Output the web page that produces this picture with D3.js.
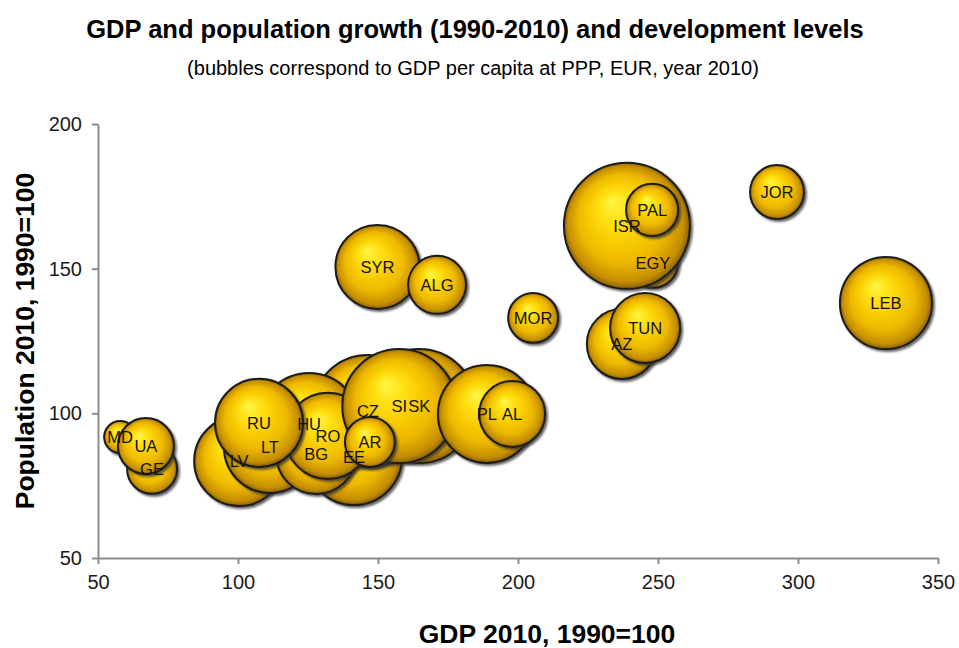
<!DOCTYPE html>
<meta charset="utf-8">
<style>
html, body { margin: 0; padding: 0; background: #fff; overflow: hidden; }
svg { font-family: Arial, "Liberation Sans", sans-serif; }
.axis path, .axis line { stroke: #8c8c8c; stroke-width: 2px; }
.axis text { font-size: 20px; fill: #1a1a1a; }
.lbl { font-size: 16.5px; fill: #111; }
</style>
<svg width="959" height="648"></svg>
<script src="https://d3js.org/d3.v7.min.js"></script>
<script>
// data, in drawing order (back to front)
var countries = ["EE", "LV", "LT", "CZ", "HU", "BG", "RO", "RU", "SK", "SI", "AR", "PL", "AL",
                 "MD", "GE", "UA", "SYR", "ALG", "MOR", "EGY", "ISR", "PAL", "AZ", "TUN", "JOR", "LEB"];
var gdpIndex = [141.4, 100.4, 111.4, 146.4, 125.4, 127.9, 132.1, 107.5, 164.7, 157.6, 147.1, 188.9, 197.9,
                57.9, 69.3, 67.1, 149.8, 171.1, 205.4, 248.2, 238.9, 247.9, 237.1, 245.4, 292.5, 331.4];
var popIndex = [84.9, 83.5, 88.4, 100.8, 96.3, 85.9, 92.2, 96.7, 102.5, 102.5, 90.1, 99.8, 99.8,
                91.8, 80.8, 88.7, 150.6, 144.4, 133.0, 152.0, 164.8, 170.3, 124.0, 129.5, 176.5, 138.1];
var gdpPerCapita = [12200, 10700, 11200, 16600, 13750, 8450, 9800, 10250, 17200, 17200, 3300, 12700, 5750,
                    1350, 3300, 4150, 9350, 4450, 3300, 3300, 21000, 3600, 6500, 6500, 3850, 11200];
var xTicks = [50, 100, 150, 200, 250, 300, 350];
var yTicks = [50, 100, 150, 200];

var svg = d3.select("svg");
var margin = {left: 98, right: 21, top: 124, bottom: 90};
var width = 959 - margin.left - margin.right;
var height = 648 - margin.top - margin.bottom;

var x = d3.scaleLinear().domain([50, 350]).range([0, width]);
var y = d3.scaleLinear().domain([50, 200]).range([height, 0]);
var r = d3.scaleSqrt().domain([0, 21000]).range([0, 63]);

var defs = svg.append("defs");
var grad = defs.append("radialGradient")
    .attr("id", "gold")
    .attr("cx", "50%").attr("cy", "50%").attr("r", "50%")
    .attr("fx", "38%").attr("fy", "30%");
grad.selectAll("stop")
    .data([[0, "#fff64a"], [0.3, "#ffdc0a"], [0.7, "#eeb800"], [0.92, "#c48e00"], [1, "#8a6000"]])
    .enter().append("stop")
    .attr("offset", function(d) { return d[0]; })
    .attr("stop-color", function(d) { return d[1]; });

var shadow = defs.append("filter")
    .attr("id", "shadow")
    .attr("x", "-20%").attr("y", "-20%").attr("width", "150%").attr("height", "150%");
shadow.append("feDropShadow")
    .attr("dx", 2).attr("dy", 2)
    .attr("stdDeviation", 1.2)
    .attr("flood-color", "#333")
    .attr("flood-opacity", 0.75);

// titles
svg.append("text")
    .attr("x", 475).attr("y", 38)
    .attr("text-anchor", "middle")
    .style("font-size", "25.5px").style("font-weight", "bold")
    .text("GDP and population growth (1990-2010) and development levels");
svg.append("text")
    .attr("x", 473).attr("y", 75)
    .attr("text-anchor", "middle")
    .style("font-size", "20px")
    .text("(bubbles correspond to GDP per capita at PPP, EUR, year 2010)");

var g = svg.append("g").attr("transform", "translate(" + margin.left + "," + margin.top + ")");

g.append("g")
    .attr("class", "axis")
    .attr("transform", "translate(0," + height + ")")
    .call(d3.axisBottom(x).tickValues(xTicks).tickSize(6).tickSizeOuter(0).tickPadding(11));

g.append("g")
    .attr("class", "axis")
    .call(d3.axisLeft(y).tickValues(yTicks).tickSize(6).tickSizeOuter(0).tickPadding(10));

svg.append("text")
    .attr("x", 547).attr("y", 643)
    .attr("text-anchor", "middle")
    .style("font-size", "26.5px").style("font-weight", "bold")
    .text("GDP 2010, 1990=100");
svg.append("text")
    .attr("transform", "translate(34,341) rotate(-90)")
    .attr("text-anchor", "middle")
    .style("font-size", "26.5px").style("font-weight", "bold")
    .text("Population 2010, 1990=100");

var idx = d3.range(countries.length);

g.append("g")
    .selectAll("circle")
    .data(idx)
    .enter().append("circle")
    .attr("cx", function(i) { return x(gdpIndex[i]); })
    .attr("cy", function(i) { return y(popIndex[i]); })
    .attr("r", function(i) { return r(gdpPerCapita[i]); })
    .attr("fill", "url(#gold)")
    .attr("stroke", "#1c1c1c")
    .attr("stroke-width", 2)
    .attr("filter", "url(#shadow)");

g.append("g")
    .selectAll("text")
    .data(idx)
    .enter().append("text")
    .attr("class", "lbl")
    .attr("x", function(i) { return x(gdpIndex[i]); })
    .attr("y", function(i) { return y(popIndex[i]); })
    .attr("dy", "0.35em")
    .attr("text-anchor", "middle")
    .text(function(i) { return countries[i]; });
</script>
